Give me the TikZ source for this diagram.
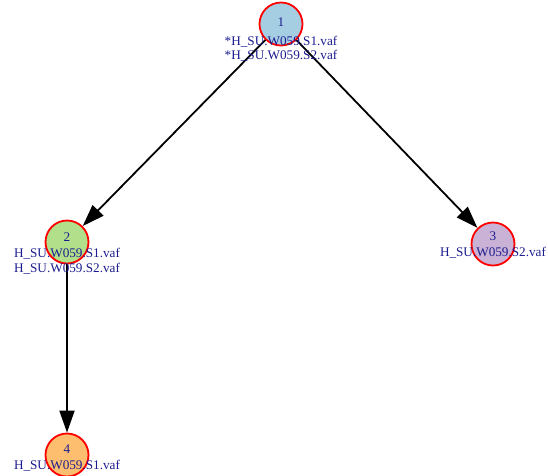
\documentclass[tikz,border=0pt]{standalone}
\usepackage{fontspec}
\setmainfont{Liberation Serif}
\usetikzlibrary{arrows.meta}
\definecolor{nv}{HTML}{1C1C8E}
\definecolor{cA}{HTML}{A6CEE3}
\definecolor{cB}{HTML}{B2DF8A}
\definecolor{cC}{HTML}{CAB2D6}
\definecolor{cD}{HTML}{FDBF6F}
\tikzset{
  vtx/.style={circle, draw=red, line width=1.8pt, minimum size=43pt, inner sep=0pt},
  lbl/.style={text=nv, font=\fontsize{13.2}{15}\selectfont, inner sep=0pt, align=center},
  edge/.style={black, line width=1.8pt, -{Triangle[length=22pt,width=15pt]}}
}
\begin{document}
\begin{tikzpicture}[x=1pt,y=-1pt]
\useasboundingbox (0,0) rectangle (548,475);
\node[vtx, fill=cA] (n1) at (281,24) {};
\node[vtx, fill=cB] (n2) at (67,242) {};
\node[vtx, fill=cC] (n3) at (493,244) {};
\node[vtx, fill=cD] (n4) at (67,455) {};
\draw[edge] (n1) -- (n2);
\draw[edge] (n1) -- (n3);
\draw[edge] (n2) -- (n4);
\node[lbl] (t1) at (281,22) {1};
\node[lbl] (t1a) at (281,42) {*H\_SU.W059.S1.vaf};
\node[lbl] (t1b) at (281,56) {*H\_SU.W059.S2.vaf};
\node[lbl] (t2) at (67,237) {2};
\node[lbl] (t2a) at (67,254) {H\_SU.W059.S1.vaf};
\node[lbl] (t2b) at (67,269) {H\_SU.W059.S2.vaf};
\node[lbl] (t3) at (493,236) {3};
\node[lbl] (t3a) at (493,253) {H\_SU.W059.S2.vaf};
\node[lbl] (t4) at (67,449) {4};
\node[lbl] (t4a) at (67,466) {H\_SU.W059.S1.vaf};
\end{tikzpicture}
\end{document}
